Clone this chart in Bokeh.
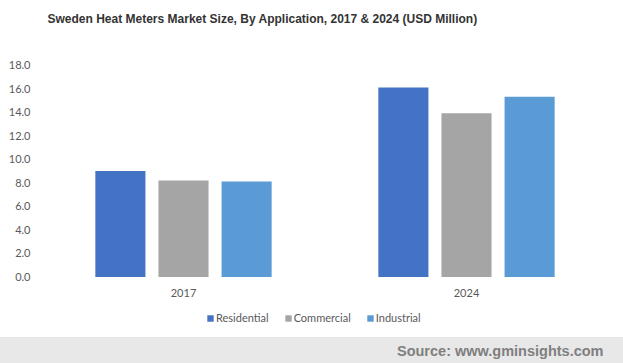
from bokeh.plotting import figure
from bokeh.models import (ColumnDataSource, Range1d, Legend, LegendItem,
                          Label, NumeralTickFormatter, FixedTicker)
from bokeh.core.properties import value
from bokeh.layouts import column
from bokeh.embed import file_html
from bokeh.resources import INLINE

years = ["2017", "2024"]
applications = ["Residential", "Commercial", "Industrial"]
residential = [9.0, 16.1]
commercial = [8.2, 13.9]
industrial = [8.1, 15.3]
y_ticks = [0, 2, 4, 6, 8, 10, 12, 14, 16, 18]
colors = ["#4472C4", "#A5A5A5", "#5B9BD5"]

# ---- layout geometry (pixels) ----
MAIN_H = 337
BAND_H = 26
LEFT = 41
FRAME_W = 623 - LEFT
Y0_PX, Y18_PX = 276.5, 64.5          # where 0 and 18 sit (from top)
PX_PER_UNIT = (Y0_PX - Y18_PX) / 18
CAT_PX = 283.0                         # width of one category
FIRST_CENTER = 142.0                   # 2017 centre from frame left
BAND_COLOR = "#E8E8E8"

y_start = -(MAIN_H - Y0_PX) / PX_PER_UNIT
y_end = 18 + Y18_PX / PX_PER_UNIT
x_start = -FIRST_CENTER / CAT_PX
x_end = x_start + FRAME_W / CAT_PX
label_y = -(292 - Y0_PX) / PX_PER_UNIT

idx = list(range(len(years)))
src = ColumnDataSource(dict(idx=idx, year=years, Residential=residential,
                            Commercial=commercial, Industrial=industrial))

p = figure(x_range=Range1d(x_start, x_end), y_range=Range1d(y_start, y_end),
           width=623, height=MAIN_H, output_backend="svg", toolbar_location=None,
           x_axis_location=None,
           min_border_left=LEFT, min_border_right=0, min_border_top=0, min_border_bottom=0)
p.outline_line_color = None
p.grid.grid_line_color = None

offsets = [-0.223, 0.0, 0.223]
bar_w = 0.177
renderers = []
for app, off, c in zip(applications, offsets, colors):
    src.data["x_" + app] = [i + off for i in idx]
    r = p.vbar(x="x_" + app, top=app, bottom=0, width=bar_w,
               source=src, fill_color=c, line_color=None)
    renderers.append(r)

label_color = "#595959"
ax = p.yaxis[0]
ax.axis_line_color = None
ax.major_tick_line_color = None
ax.minor_tick_line_color = None
ax.major_tick_out = 0
ax.major_tick_in = 0
ax.major_label_text_color = label_color
ax.major_label_text_font = "Lato"
ax.major_label_text_font_size = "11px"
ax.ticker = FixedTicker(ticks=y_ticks)
ax.formatter = NumeralTickFormatter(format="0.0")
ax.major_label_standoff = 11

# category labels under the bars
p.text(x="idx", y=label_y, text="year", source=src, text_font=value("Lato"),
       text_font_size="11px", text_color=label_color, text_align="center",
       text_baseline="middle")

legend = Legend(items=[LegendItem(label=a, renderers=[r]) for a, r in zip(applications, renderers)],
                orientation="horizontal", location=(165, 13),
                glyph_width=8, glyph_height=8, label_height=12, label_standoff=2,
                spacing=15, padding=0, margin=0, border_line_color=None,
                label_text_font="Lato", label_text_font_size="11px",
                label_text_color=label_color, background_fill_alpha=0)
p.add_layout(legend)

title = Label(x=6, y=MAIN_H - 18, x_units="screen", y_units="screen",
              text="Sweden Heat Meters Market Size, By Application, 2017 & 2024 (USD Million)",
              text_font="Liberation Sans", text_font_style="bold", text_font_size="12px",
              text_color="#333333", text_align="left", text_baseline="middle")
p.add_layout(title)

band = figure(width=623, height=BAND_H, output_backend="svg", toolbar_location=None,
              x_axis_type=None, y_axis_type=None, min_border=0, min_border_left=LEFT,
              x_range=Range1d(0, 1), y_range=Range1d(0, 1),
              styles={"background-color": BAND_COLOR})
band.outline_line_color = None
band.background_fill_color = BAND_COLOR
band.border_fill_color = BAND_COLOR
band.border_fill_alpha = 1.0
band.add_layout(Label(x=1, y=0.5, x_offset=-20,
                      text="Source: www.gminsights.com", text_font="Liberation Sans",
                      text_font_style="bold", text_font_size="14.5px", text_color="#7F7F7F",
                      text_align="right", text_baseline="middle"))

layout = column(p, band, spacing=0)
open("out.html", "w").write(file_html(layout, INLINE))
